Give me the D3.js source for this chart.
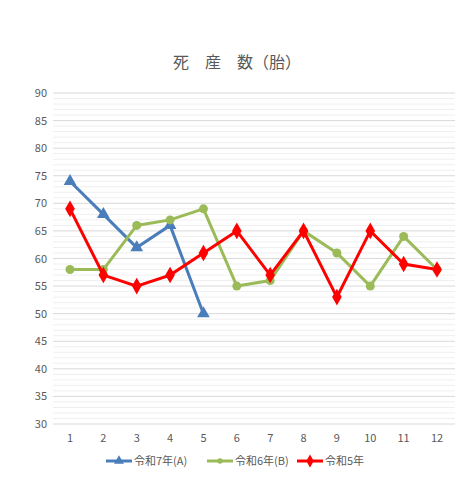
<!DOCTYPE html><html><head><meta charset="utf-8"><script src="https://cdn.jsdelivr.net/npm/d3@7"></script>
<style>body{margin:0;background:#fff}text{font-family:"Noto Sans CJK JP",sans-serif}</style></head><body><svg id="c" width="467" height="480"></svg><script>
const months=[1,2,3,4,5,6,7,8,9,10,11,12];
const seriesA=[74,68,62,66,50];
const seriesB=[58,58,66,67,69,55,56,65,61,55,64,58];
const seriesC=[69,57,55,57,61,65,57,65,53,65,59,58];
const names=["令和7年(A)","令和6年(B)","令和5年"];
const yTicks=d3.range(30,91,5);
const svg=d3.select("#c");
const x=d3.scalePoint().domain(months).range([70,437]);
const y=d3.scaleLinear().domain([30,90]).range([424,93]);
const g=svg.append("g");
d3.range(30,91,1).forEach(v=>{g.append("line").attr("x1",53).attr("x2",455).attr("y1",y(v)).attr("y2",y(v))
 .attr("stroke",v%5==0?"#d9d9d9":"#efefef").attr("stroke-width",1);});
yTicks.forEach(v=>svg.append("text").attr("x",47).attr("y",y(v)+4).attr("text-anchor","end").attr("font-size",11).attr("fill","#595959").text(v));
months.forEach(m=>svg.append("text").attr("x",x(m)).attr("y",442).attr("text-anchor","middle").attr("font-size",11).attr("fill","#595959").text(m));
svg.append("text").attr("x",237).attr("y",68).attr("text-anchor","middle").attr("font-size",16).attr("fill","#595959").text("死　産　数（胎）");
const line=d3.line().x((d,i)=>x(months[i])).y(d=>y(d));
const defs=[{d:seriesA,c:"#4a7ebb",m:"tri"},{d:seriesB,c:"#9bbb59",m:"circ"},{d:seriesC,c:"#ff0000",m:"dia"}];
function marker(sel,m,c,s){
 if(m=="tri")return sel.append("path").attr("d",d3.symbol(d3.symbolTriangle,s*7)()).attr("fill",c);
 if(m=="circ")return sel.append("circle").attr("r",s*0.45).attr("fill",c);
 return sel.append("path").attr("d",d3.symbol(d3.symbolDiamond,s*8)()).attr("fill",c);
}
defs.forEach(s=>{
 svg.append("path").attr("d",line(s.d)).attr("fill","none").attr("stroke",s.c).attr("stroke-width",3);
 s.d.forEach((v,i)=>marker(svg.append("g").attr("transform",`translate(${x(months[i])},${y(v)})`),s.m,s.c,10));
});
const lx=[106,207,297];
defs.forEach((s,i)=>{
 svg.append("line").attr("x1",lx[i]).attr("x2",lx[i]+26).attr("y1",461).attr("y2",461).attr("stroke",s.c).attr("stroke-width",3);
 marker(svg.append("g").attr("transform",`translate(${lx[i]+13},461)`),s.m,s.c,6);
 svg.append("text").attr("x",lx[i]+28).attr("y",465).attr("font-size",11).attr("fill","#595959").text(names[i]);
});
</script></body></html>
